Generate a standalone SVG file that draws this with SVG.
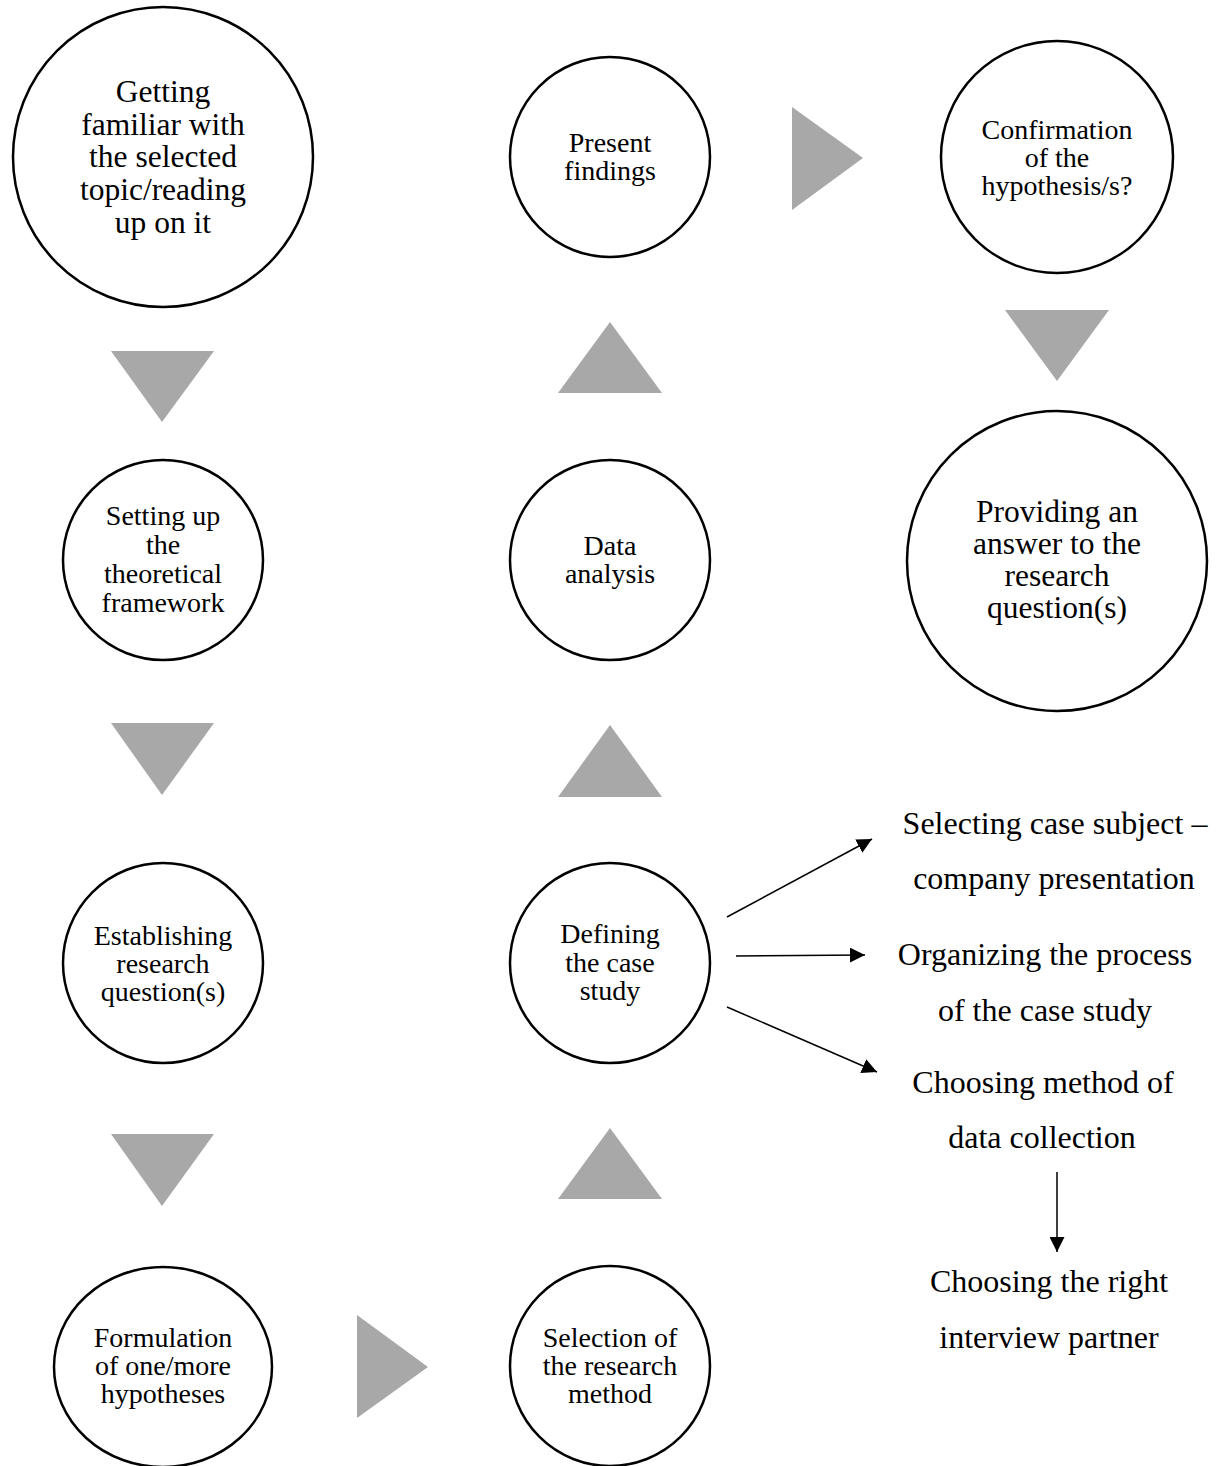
<svg xmlns="http://www.w3.org/2000/svg" width="1221" height="1466" viewBox="0 0 1221 1466">
  <style>
    .node { fill: #ffffff; stroke: #000000; stroke-width: 2.5; }
    .lbl { font-family: "Liberation Serif", "Times New Roman", serif; font-size: 28px; fill: #000000; text-anchor: middle; }
    .big { font-size: 31.5px; }
    .side { font-family: "Liberation Serif", "Times New Roman", serif; font-size: 32px; fill: #000000; text-anchor: middle; }
    .step { fill: #a8a8a8; stroke: none; }
    .link { stroke: #000000; stroke-width: 1.5; fill: none; marker-end: url(#head); }
  </style>
  <defs>
    <marker id="head" viewBox="0 0 10 10" refX="10" refY="5" markerWidth="15" markerHeight="15" markerUnits="userSpaceOnUse" orient="auto">
      <path d="M0,0 L10,5 L0,10 z" fill="#000000"/>
    </marker>
  </defs>
  <rect width="1221" height="1466" fill="#ffffff"/>

  <!-- left column -->
  <g id="n-familiar">
    <circle class="node" cx="163" cy="157" r="150"/>
    <text class="lbl big" x="163" y="102">Getting</text>
    <text class="lbl big" x="163" y="135">familiar with</text>
    <text class="lbl big" x="163" y="167">the selected</text>
    <text class="lbl big" x="163" y="200">topic/reading</text>
    <text class="lbl big" x="163" y="233">up on it</text>
  </g>
  <g id="n-framework">
    <circle class="node" cx="163" cy="560" r="100"/>
    <text class="lbl" x="163" y="525">Setting up</text>
    <text class="lbl" x="163" y="554">the</text>
    <text class="lbl" x="163" y="583">theoretical</text>
    <text class="lbl" x="163" y="612">framework</text>
  </g>
  <g id="n-questions">
    <circle class="node" cx="163" cy="963" r="100"/>
    <text class="lbl" x="163" y="945">Establishing</text>
    <text class="lbl" x="163" y="973">research</text>
    <text class="lbl" x="163" y="1001">question(s)</text>
  </g>
  <g id="n-hypotheses">
    <ellipse class="node" cx="163" cy="1367" rx="109" ry="100"/>
    <text class="lbl" x="163" y="1347">Formulation</text>
    <text class="lbl" x="163" y="1375">of one/more</text>
    <text class="lbl" x="163" y="1403">hypotheses</text>
  </g>

  <!-- middle column -->
  <g id="n-present">
    <circle class="node" cx="610" cy="157" r="100"/>
    <text class="lbl" x="610" y="152">Present</text>
    <text class="lbl" x="610" y="180">findings</text>
  </g>
  <g id="n-analysis">
    <circle class="node" cx="610" cy="560" r="100"/>
    <text class="lbl" x="610" y="555">Data</text>
    <text class="lbl" x="610" y="583">analysis</text>
  </g>
  <g id="n-casestudy">
    <circle class="node" cx="610" cy="963" r="100"/>
    <text class="lbl" x="610" y="943">Defining</text>
    <text class="lbl" x="610" y="972">the case</text>
    <text class="lbl" x="610" y="1000">study</text>
  </g>
  <g id="n-method">
    <circle class="node" cx="610" cy="1366" r="100"/>
    <text class="lbl" x="610" y="1347">Selection of</text>
    <text class="lbl" x="610" y="1375">the research</text>
    <text class="lbl" x="610" y="1403">method</text>
  </g>

  <!-- right column -->
  <g id="n-confirmation">
    <circle class="node" cx="1057" cy="157" r="116"/>
    <text class="lbl" x="1057" y="139">Confirmation</text>
    <text class="lbl" x="1057" y="167">of the</text>
    <text class="lbl" x="1057" y="195">hypothesis/s?</text>
  </g>
  <g id="n-answer">
    <circle class="node" cx="1057" cy="561" r="150"/>
    <text class="lbl big" x="1057" y="522">Providing an</text>
    <text class="lbl big" x="1057" y="554">answer to the</text>
    <text class="lbl big" x="1057" y="586">research</text>
    <text class="lbl big" x="1057" y="618">question(s)</text>
  </g>

  <!-- case study sub-steps -->
  <g id="n-subject">
    <text class="side" x="1055" y="834">Selecting case subject –</text>
    <text class="side" x="1054" y="889">company presentation</text>
  </g>
  <g id="n-process">
    <text class="side" x="1045" y="965">Organizing the process</text>
    <text class="side" x="1045" y="1021">of the case study</text>
  </g>
  <g id="n-collection">
    <text class="side" x="1043" y="1093">Choosing method of</text>
    <text class="side" x="1042" y="1148">data collection</text>
  </g>
  <g id="n-partner">
    <text class="side" x="1049" y="1292">Choosing the right</text>
    <text class="side" x="1049" y="1348">interview partner</text>
  </g>

  <!-- connectors -->
  <g id="connectors">
    <!-- flow steps -->
    <polygon class="step" points="111,351 214,351 162,422"/>
    <polygon class="step" points="111,723 214,723 162,795"/>
    <polygon class="step" points="111,1134 214,1134 162,1206"/>
    <polygon class="step" points="357,1315 357,1418 428,1367"/>
    <polygon class="step" points="558,1199 662,1199 610,1128"/>
    <polygon class="step" points="558,797 662,797 610,725"/>
    <polygon class="step" points="558,393 662,393 610,322"/>
    <polygon class="step" points="792,107 792,210 863,158"/>
    <polygon class="step" points="1005,310 1109,310 1057,381"/>
    <!-- case study branches -->
    <line class="link" x1="727" y1="917" x2="872" y2="839"/>
    <line class="link" x1="736" y1="956" x2="865" y2="955"/>
    <line class="link" x1="727" y1="1007" x2="877" y2="1072"/>
    <line class="link" x1="1057" y1="1172" x2="1057" y2="1252"/>
  </g>
</svg>
